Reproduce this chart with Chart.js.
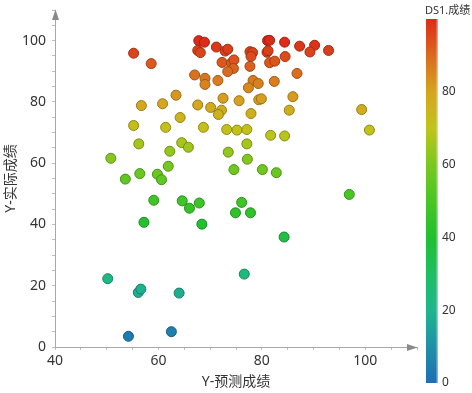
<!DOCTYPE html>
<html>
<head>
<meta charset="utf-8">
<script src="https://cdn.jsdelivr.net/npm/chart.js@4"></script>
<style>
html,body{margin:0;padding:0;background:#fff;}
#wrap{position:relative;width:472px;height:393px;}
</style>
</head>
<body>
<div id="wrap"><canvas id="c"></canvas></div>
<script>
// ---- data ----
const xPredicted = [
55.2,58.6,67.8,68.9,67.6,68.1,71.2,72.9,73.4,72.3,74.1,74.6,74.5,73.4,67.0,69.0,69.0,71.5,63.4,72.5,
75.6,56.7,60.8,67.6,70.1,72.2,71.6,64.2,55.2,61.4,68.7,73.2,75.2,56.2,64.5,65.8,62.2,73.5,50.8,61.9,
74.6,56.4,53.6,59.8,60.6,81.1,81.5,84.4,87.3,90.2,89.3,92.9,77.7,78.2,77.9,81.0,81.2,84.5,77.7,81.5,
82.5,86.8,78.3,79.3,77.4,82.4,79.4,79.9,86.0,77.9,85.3,99.3,77.1,100.8,81.7,84.4,77.1,77.2,80.1,82.8,
96.9,59.1,57.2,64.6,66.0,67.9,68.4,74.9,50.2,56.1,56.6,64.0,54.2,62.5,76.1,77.8,84.3,76.6
];
const yActual = [
95.9,92.5,100.0,99.5,96.8,96.1,97.9,96.6,97.2,92.9,92.7,93.7,90.9,89.9,88.8,87.7,85.7,87.0,82.2,81.2,
80.4,78.8,79.4,79.0,78.2,77.3,75.9,74.9,72.3,71.7,71.7,71.0,70.8,66.3,66.7,65.2,63.9,63.6,61.6,59.0,
57.9,56.6,54.8,56.4,54.6,100.0,100.1,99.5,98.2,98.5,96.3,96.8,96.4,96.1,94.8,96.2,96.7,94.8,91.6,92.8,
93.3,89.3,87.0,86.0,84.6,86.7,80.7,81.0,81.7,76.2,77.3,77.5,71.0,70.8,69.1,68.9,66.3,61.3,57.9,56.9,
49.8,47.9,40.7,47.7,45.3,47.0,40.1,43.8,22.3,17.8,18.9,17.6,3.5,5.0,47.2,43.8,35.9,23.8
];
const xTickLabels = [40, 60, 80, 100];
const yTickLabels = [0, 20, 40, 60, 80, 100];
const colorbarTicks = [0, 20, 40, 60, 80];
const xTitle = 'Y-预测成绩';
const yTitle = 'Y-实际成绩';
const colorbarTitle = 'DS1.成绩';

// ---- colour map ----
const stops = [
  [0,  [31,110,180]],
  [10, [30,145,168]],
  [20, [30,182,140]],
  [30, [30,190,100]],
  [40, [32,192,48]],
  [50, [72,198,36]],
  [60, [122,200,30]],
  [70, [192,196,26]],
  [80, [214,164,30]],
  [90, [218,106,30]],
  [100,[220,42,24]]
];
function cmap(v){
  v = Math.max(0, Math.min(100, v));
  for (let i=0;i<stops.length-1;i++){
    const [a,ca]=stops[i],[b,cb]=stops[i+1];
    if (v<=b){
      const t=(v-a)/(b-a);
      return ca.map((c,k)=>Math.round(c+(cb[k]-c)*t));
    }
  }
  return stops[stops.length-1][1];
}
const rgb = c => `rgb(${c[0]},${c[1]},${c[2]})`;
const dark = c => rgb(c.map(x=>Math.round(x*0.72)));

const points = xPredicted.map((x,i)=>({x, y:yActual[i]}));
const fills = yActual.map(v=>rgb(cmap(v)));
const borders = yActual.map(v=>dark(cmap(v)));

const FONT = '"Noto Sans", "Noto Sans CJK SC", sans-serif';
const AX = '#a8a8a8';

const decor = {
  id:'decor',
  afterDraw(chart){
    const ctx = chart.ctx;
    const xs = chart.scales.x, ys = chart.scales.y;
    ctx.save();
    // arrows
    ctx.fillStyle = '#8a8a8a';
    const xr = xs.getPixelForValue(xs.max), yb = ys.getPixelForValue(ys.min);
    ctx.beginPath();
    ctx.moveTo(xr+0.5, yb+0.5);
    ctx.lineTo(xr-10, yb-3);
    ctx.lineTo(xr-10, yb+4);
    ctx.closePath(); ctx.fill();
    const xl = xs.getPixelForValue(xs.min), yt = ys.getPixelForValue(ys.max);
    ctx.beginPath();
    ctx.moveTo(xl+0.5, yt-0.5);
    ctx.lineTo(xl-3, yt+10);
    ctx.lineTo(xl+4, yt+10);
    ctx.closePath(); ctx.fill();

    // colour bar
    const cx = 426, cw = 12, cTop = 19, cBot = 383;
    const vy = v => cBot - (cBot-cTop)*v/100;
    const g = ctx.createLinearGradient(0, cBot, 0, cTop);
    stops.forEach(([v,c])=>g.addColorStop(v/100, rgb(c)));
    ctx.fillStyle = g;
    ctx.fillRect(cx, cTop, cw, cBot-cTop);
    ctx.fillStyle = 'rgba(255,255,255,0.45)';
    ctx.fillRect(cx+cw-1.5, cTop, 1.5, cBot-cTop);
    ctx.fillStyle = '#333';
    ctx.font = '12px ' + FONT;
    ctx.textAlign = 'left';
    ctx.textBaseline = 'middle';
    colorbarTicks.forEach(v=>ctx.fillText(String(v), cx+cw+4, vy(v)));
    ctx.font = '11px ' + FONT;
    ctx.fillText(colorbarTitle, cx-1, 11);
    ctx.restore();
  }
};

new Chart(document.getElementById('c'), {
  type:'scatter',
  data:{datasets:[{
    data: points,
    backgroundColor: fills,
    borderColor: borders,
    borderWidth: 1,
    pointRadius: 5,
    pointHoverRadius: 5
  }]},
  options:{
    responsive:true,
    maintainAspectRatio:false,
    animation:false,
    events:[],
    layout:{padding:{top:10,right:55,bottom:0,left:0}},
    plugins:{legend:{display:false},tooltip:{enabled:false}},
    scales:{
      x:{
        type:'linear', min:40, max:110,
        afterFit(s){ s.height = 46; s.paddingLeft = 0; s.paddingRight = 0; },
        afterBuildTicks(s){ s.ticks = []; for(let v=40; v<=110; v+=5) s.ticks.push({value:v}); },
        ticks:{
          autoSkip:false, maxRotation:0, padding:3,
          color:'#333', font:{size:14, family:FONT},
          callback:v => xTickLabels.includes(v) ? String(v) : ''
        },
        grid:{display:true, drawOnChartArea:false, drawTicks:true, tickLength:3, color:'#bdbdbd'},
        border:{display:true, color:AX, width:1},
        title:{display:true, text:xTitle, color:'#333', font:{size:14, family:FONT}, padding:{top:0,bottom:3}}
      },
      y:{
        type:'linear', min:0, max:110,
        afterFit(s){ s.width = 55; s.paddingTop = 0; s.paddingBottom = 0; },
        afterBuildTicks(s){ s.ticks = []; for(let v=0; v<=110; v+=5) s.ticks.push({value:v}); },
        ticks:{
          autoSkip:false, padding:6,
          color:'#333', font:{size:14, family:FONT},
          callback:v => yTickLabels.includes(v) ? String(v) : ''
        },
        grid:{display:true, drawOnChartArea:false, drawTicks:true, tickLength:3, color:'#bdbdbd'},
        border:{display:true, color:AX, width:1},
        title:{display:true, text:yTitle, color:'#333', font:{size:14, family:FONT}, padding:{top:3,bottom:0}}
      }
    }
  },
  plugins:[decor]
});
</script>
</body>
</html>
